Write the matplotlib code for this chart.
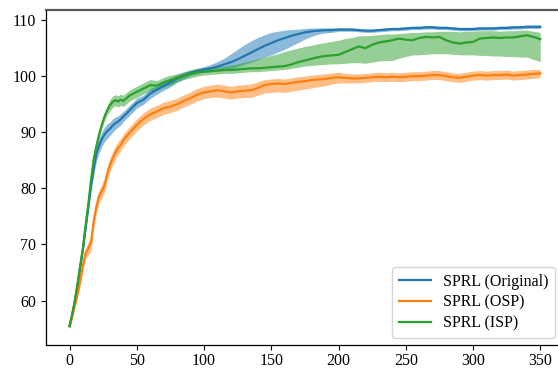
import matplotlib
matplotlib.use("Agg")
import matplotlib.pyplot as plt
import numpy as np

plt.rcParams['font.family'] = ['Liberation Serif', 'DejaVu Serif']
plt.rcParams['font.size'] = 11.5

steps = [0, 2, 4, 6, 8, 10, 12, 14, 16, 18, 20, 22, 24, 26, 28, 30, 32, 34, 36, 38, 40,
         45, 50, 55, 60, 65, 70, 75, 80, 85, 90, 95, 100, 105, 110, 115, 120, 125, 130,
         135, 140, 145, 150, 155, 160, 165, 170, 175, 180, 185, 190, 195, 200, 205, 210,
         215, 220, 225, 230, 235, 240, 245, 250, 255, 260, 265, 270, 275, 280, 285, 290,
         295, 300, 305, 310, 315, 320, 325, 330, 335, 340, 345, 350]

orig_mean = [55.5, 57.5, 60.0, 62.8, 66.0, 69.2, 73.0, 76.8, 80.5, 83.6, 86.2, 87.6, 88.8, 89.6,
             90.2, 90.6, 91.2, 91.6, 91.9, 92.3, 92.8,
             94.0, 95.2, 95.8, 96.9, 97.6, 98.3, 98.9, 99.6, 100.1, 100.6, 100.9, 101.2, 101.4,
             101.7, 102.1, 102.5, 103.0, 103.6, 104.2, 104.8, 105.4, 105.9, 106.4, 106.8, 107.2,
             107.5, 107.8, 108.0, 108.1, 108.2, 108.2, 108.3, 108.3, 108.3, 108.2, 108.1, 108.1,
             108.2, 108.3, 108.4, 108.4, 108.5, 108.6, 108.6, 108.7, 108.7, 108.6, 108.6, 108.5,
             108.4, 108.4, 108.4, 108.5, 108.5, 108.5, 108.6, 108.6, 108.7, 108.7, 108.8, 108.8,
             108.8]
orig_low = [55.2, 57.1, 59.6, 62.4, 65.6, 68.7, 72.3, 75.9, 79.4, 82.3, 84.9, 86.3, 87.5, 88.3,
            88.9, 89.4, 90.0, 90.5, 90.9, 91.3, 91.9,
            93.1, 94.3, 95.0, 96.0, 96.8, 97.5, 98.1, 98.9, 99.5, 100.1, 100.4, 100.7, 100.8,
            100.9, 101.0, 101.3, 101.7, 102.1, 102.5, 102.9, 103.4, 103.8, 104.3, 104.8, 105.4,
            106.0, 106.6, 107.1, 107.5, 107.7, 107.8, 108.0, 108.0, 108.0, 107.9, 107.8, 107.8,
            107.9, 108.0, 108.1, 108.1, 108.2, 108.3, 108.3, 108.4, 108.4, 108.3, 108.3, 108.2,
            108.1, 108.1, 108.1, 108.2, 108.2, 108.2, 108.3, 108.3, 108.4, 108.4, 108.5, 108.5,
            108.5]
orig_high = [55.8, 57.9, 60.4, 63.2, 66.4, 69.7, 73.7, 77.7, 81.6, 84.9, 87.5, 88.9, 90.1, 90.9,
             91.5, 91.8, 92.4, 92.7, 92.9, 93.3, 93.7,
             94.9, 96.1, 96.6, 97.8, 98.4, 99.1, 99.7, 100.3, 100.7, 101.1, 101.4, 101.7, 102.1,
             102.6, 103.2, 104.0, 104.8, 105.6, 106.3, 106.9, 107.4, 107.8, 108.0, 108.2, 108.3,
             108.4, 108.5, 108.6, 108.6, 108.6, 108.6, 108.6, 108.6, 108.6, 108.5, 108.4, 108.4,
             108.5, 108.6, 108.7, 108.7, 108.8, 108.9, 108.9, 109.0, 109.0, 108.9, 108.9, 108.8,
             108.7, 108.7, 108.7, 108.8, 108.8, 108.8, 108.9, 108.9, 109.0, 109.0, 109.1, 109.1,
             109.1]

osp_mean = [55.5, 57.2, 59.2, 61.2, 63.6, 66.3, 68.5, 69.3, 70.3, 74.2, 76.8, 78.6, 79.5, 80.5,
            82.6, 84.1, 85.3, 86.3, 87.2, 87.7, 88.6,
            90.0, 91.3, 92.4, 93.2, 93.7, 94.3, 94.6, 95.0, 95.6, 96.1, 96.7, 97.1, 97.3, 97.5,
            97.3, 97.1, 97.3, 97.4, 97.5, 97.9, 98.4, 98.6, 98.7, 98.6, 98.8, 99.0, 99.1, 99.3,
            99.4, 99.5, 99.7, 99.8, 99.7, 99.6, 99.6, 99.7, 99.8, 99.9, 99.8, 99.9, 99.8, 99.9,
            100.0, 100.0, 100.1, 100.2, 100.2, 100.0, 99.8, 99.7, 99.9, 100.1, 100.2, 100.1,
            100.2, 100.2, 100.3, 100.1, 100.2, 100.3, 100.4, 100.5]
osp_low = [55.0, 56.7, 58.7, 60.6, 62.9, 65.5, 67.5, 68.1, 69.0, 72.9, 75.5, 77.4, 78.3, 79.3,
           81.4, 82.9, 84.1, 85.1, 86.1, 86.6, 87.5,
           88.9, 90.2, 91.3, 92.1, 92.6, 93.2, 93.5, 93.9, 94.5, 95.0, 95.6, 96.0, 96.2, 96.3,
           96.1, 95.9, 96.1, 96.2, 96.2, 96.6, 97.0, 97.1, 97.2, 97.1, 97.3, 97.5, 97.7, 97.9,
           98.1, 98.3, 98.6, 98.8, 98.8, 98.8, 98.8, 98.9, 99.0, 99.1, 99.0, 99.1, 99.0, 99.1,
           99.2, 99.2, 99.3, 99.4, 99.4, 99.2, 99.0, 98.9, 99.1, 99.3, 99.4, 99.3, 99.4, 99.4,
           99.5, 99.3, 99.4, 99.5, 99.6, 99.8]
osp_high = [56.0, 57.7, 59.7, 61.8, 64.3, 67.1, 69.5, 70.5, 71.6, 75.5, 78.1, 79.8, 80.7, 81.7,
            83.8, 85.3, 86.5, 87.5, 88.3, 88.8, 89.7,
            91.1, 92.4, 93.5, 94.3, 94.8, 95.4, 95.7, 96.1, 96.7, 97.2, 97.8, 98.2, 98.4, 98.6,
            98.4, 98.2, 98.4, 98.5, 98.6, 99.0, 99.4, 99.5, 99.6, 99.5, 99.7, 99.9, 100.0, 100.2,
            100.3, 100.4, 100.6, 100.7, 100.5, 100.4, 100.4, 100.5, 100.6, 100.7, 100.6, 100.7,
            100.6, 100.7, 100.8, 100.8, 100.9, 101.0, 101.0, 100.8, 100.6, 100.5, 100.7, 100.9,
            101.0, 100.9, 101.0, 101.0, 101.1, 100.9, 101.0, 101.1, 101.2, 101.2]

isp_mean = [55.4, 57.5, 60.0, 63.0, 66.3, 69.4, 73.5, 77.2, 81.5, 85.2, 87.6, 89.6, 91.3, 92.8,
            93.9, 94.8, 95.4, 95.7, 95.5, 95.8, 95.6,
            96.6, 97.2, 97.8, 98.4, 98.3, 98.9, 99.3, 99.7, 100.1, 100.4, 100.7, 100.8, 100.9,
            101.0, 101.1, 101.1, 101.2, 101.3, 101.4, 101.4, 101.5, 101.6, 101.7, 101.8, 102.1,
            102.5, 102.8, 103.1, 103.4, 103.6, 103.7, 103.8, 104.3, 104.8, 105.3, 105.0, 105.6,
            106.0, 106.2, 106.4, 106.7, 106.5, 106.4, 106.8, 107.0, 106.9, 107.0, 106.4, 106.0,
            105.8, 106.0, 106.1, 106.7, 106.8, 106.9, 106.8, 106.9, 106.9, 107.1, 107.3, 107.0,
            106.6]
isp_low = [55.1, 57.1, 59.6, 62.6, 65.9, 69.0, 73.1, 76.8, 81.1, 84.5, 86.9, 88.9, 90.6, 92.0,
           93.1, 93.8, 94.4, 94.7, 94.5, 94.8, 94.6,
           95.6, 96.2, 96.8, 97.4, 97.4, 98.0, 98.4, 99.0, 99.4, 99.7, 100.0, 100.2, 100.3,
           100.4, 100.5, 100.5, 100.6, 100.7, 100.8, 100.8, 100.9, 101.0, 101.1, 101.2, 101.4,
           101.6, 101.8, 101.9, 102.0, 102.1, 102.2, 102.2, 102.3, 102.4, 102.4, 102.3, 102.5,
           102.7, 102.8, 102.8, 103.2, 103.5, 103.8, 103.8, 103.9, 104.0, 104.0, 104.0, 103.9,
           103.8, 103.8, 103.8, 103.7, 103.7, 103.6, 103.6, 103.5, 103.5, 103.4, 103.4, 103.0,
           102.6]
isp_high = [55.7, 57.9, 60.4, 63.4, 66.7, 69.8, 73.9, 77.6, 81.9, 85.9, 88.3, 90.3, 92.0, 93.6,
            94.7, 95.8, 96.4, 96.7, 96.5, 96.8, 96.6,
            97.6, 98.2, 98.8, 99.4, 99.2, 99.8, 100.2, 100.4, 100.8, 101.1, 101.4, 101.5, 101.6,
            101.7, 101.8, 102.0, 102.2, 102.5, 102.8, 103.1, 103.4, 103.7, 104.0, 104.4, 104.7,
            105.0, 105.3, 105.5, 105.8, 106.0, 106.2, 106.4, 106.7, 106.9, 107.2, 107.2, 107.3,
            107.4, 107.5, 107.5, 107.6, 107.7, 107.8, 107.8, 107.9, 107.9, 108.0, 108.0, 108.0,
            107.9, 108.0, 108.0, 108.1, 108.1, 108.1, 108.0, 108.1, 108.1, 108.2, 108.2, 108.0,
            107.8]

labels = ["SPRL (Original)", "SPRL (OSP)", "SPRL (ISP)"]
colors = ["#1f77b4", "#ff7f0e", "#2ca02c"]

fig = plt.figure(figsize=(5.58, 3.69), dpi=100)
ax = fig.add_axes([0.0824, 0.0637, 0.928, 0.9093])

series = [(orig_mean, orig_low, orig_high), (osp_mean, osp_low, osp_high),
          (isp_mean, isp_low, isp_high)]
for (m, lo, hi), lab, c in zip(series, labels, colors):
    ax.plot(steps, m, color=c, lw=1.6, label=lab)
    ax.fill_between(steps, lo, hi, color=c, alpha=0.5, lw=0)

ax.set_xticks([0, 50, 100, 150, 200, 250, 300, 350])
ax.set_yticks([60, 70, 80, 90, 100, 110])
ax.set_xlim(-17.5, 367.5)
ax.set_ylim(52.0, 111.8)
ax.tick_params(axis='x', pad=2.0)

ax.spines['top'].set_color('0.35')
ax.spines['top'].set_linewidth(1.6)
for s in ['left', 'bottom']:
    ax.spines[s].set_color('black')
    ax.spines[s].set_linewidth(0.9)
ax.spines['right'].set_visible(False)

leg = ax.legend(loc='lower right', bbox_to_anchor=(0.999, 0.0), fontsize=11.5,
                framealpha=0.8, edgecolor='0.8', handlelength=2.0, labelspacing=0.3)

fig.savefig("out.png", dpi=100)
